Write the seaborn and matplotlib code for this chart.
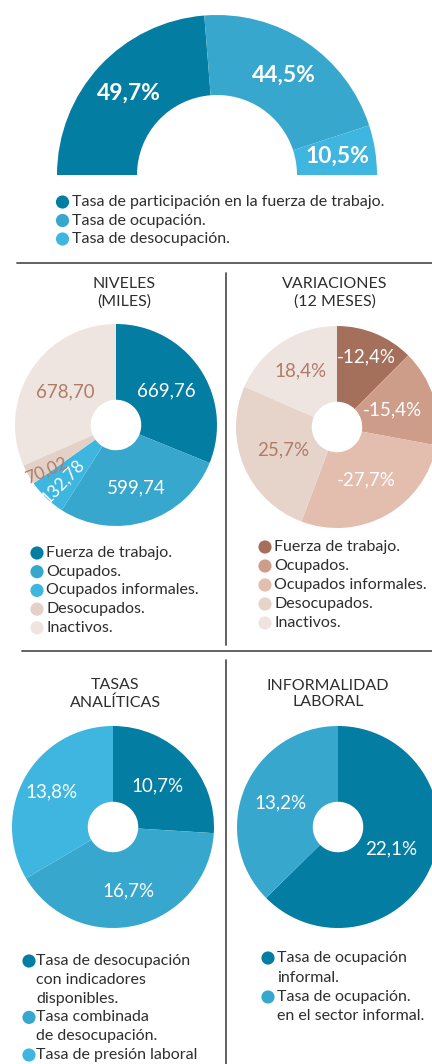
import matplotlib
matplotlib.use("Agg")
import matplotlib.pyplot as plt
import numpy as np
import seaborn as sns

sns.set_theme(style="white")
plt.rcParams["font.family"] = ["Lato", "DejaVu Sans"]

W, H = 432, 1064

# ---- data ----
top_labels = ["Tasa de participación en la fuerza de trabajo.", "Tasa de ocupación.", "Tasa de desocupación."]
top_values = [49.7, 44.5, 10.5]

niv_labels = ["Fuerza de trabajo.", "Ocupados.", "Ocupados informales.", "Desocupados.", "Inactivos."]
niv_values = [669.76, 599.74, 132.78, 70.02, 678.70]

var_labels = ["Fuerza de trabajo.", "Ocupados.", "Ocupados informales.", "Desocupados.", "Inactivos."]
var_values = [-12.4, -15.4, -27.7, 25.7, 18.4]

tasas_labels = ["Tasa de desocupación\ncon indicadores\ndisponibles.", "Tasa combinada\nde desocupación.",
                "Tasa de presión laboral"]
tasas_values = [10.7, 16.7, 13.8]

inf_labels = ["Tasa de ocupación\ninformal.", "Tasa de ocupación.\nen el sector informal."]
inf_values = [22.1, 13.2]

# ---- colours ----
blues = sns.color_palette(["#047DA2", "#37A7CD", "#3EB6E0"])
niv_colors = list(blues) + ["#E3D0C6", "#EEE4E0"]
var_colors = ["#A4705B", "#CE9D89", "#E3BDAE", "#E6D4CB", "#EEE4E0"]
brown_txt = "#B07C68"
txt = "#2E2E2E"
LEG = 11.5
LAB = 13.5
TIT = 11.5

fig = plt.figure(figsize=(W / 100, H / 100), dpi=100)
ov = fig.add_axes([0, 0, 1, 1])
ov.set_xlim(0, W)
ov.set_ylim(H, 0)
ov.axis("off")


def pie_axes(cx, cy, r, pad=1.03):
    ax = fig.add_axes([(cx - r * pad) / W, 1 - (cy + r * pad) / H, 2 * r * pad / W, 2 * r * pad / H])
    return ax


def finish(ax, pad=1.03):
    ax.set_xlim(-pad, pad)
    ax.set_ylim(-pad, pad)
    ax.set_aspect("equal")
    ax.axis("off")


def put_labels(ax, wedges, texts, dists, colors, size, weight="normal", rots=None, sizes=None, offs=None):
    for i, (w, t) in enumerate(zip(wedges, texts)):
        mid = (w.theta1 + w.theta2) / 2 + (0 if offs is None else offs[i])
        th = np.deg2rad(mid)
        d = dists[i]
        rot = 0 if rots is None else rots[i]
        fs = size if sizes is None else sizes[i]
        ax.text(d * np.cos(th), d * np.sin(th), t, ha="center", va="center",
                color=colors[i], fontsize=fs, fontweight=weight, rotation=rot,
                rotation_mode="anchor")


def legend(xm, xt, y0, step, labels, colors, size=LEG, ms=90):
    y = y0
    for lab, c in zip(labels, colors):
        ov.scatter([xm], [y], s=ms, color=c, edgecolor="none")
        for line in lab.split("\n"):
            ov.text(xt, y, line, ha="left", va="center", fontsize=size, color=txt)
            y += step


# ---- top half donut ----
ax = pie_axes(217, 175, 160)
vals = top_values + [sum(top_values)]
wed, _ = ax.pie(vals, colors=list(blues) + ["none"], startangle=180, counterclock=False,
                wedgeprops=dict(width=0.5, linewidth=0))
finish(ax)
put_labels(ax, wed[:3], [f"{v:.1f}".replace(".", ",") + "%" for v in top_values],
           [0.75, 0.75, 0.76], ["white"] * 3, 16.5, weight="bold")
legend(62.5, 72, 202, 18.5, top_labels, blues)

# separators
ov.plot([17, W], [263, 263], color="#555555", lw=1.3)
ov.plot([226, 226], [273, 645], color="#555555", lw=1.3)
ov.plot([22, W], [651, 651], color="#555555", lw=1.3)
ov.plot([226, 226], [660, 1064], color="#555555", lw=1.3)

# ---- niveles ----
ov.text(124, 293, "NIVELES\n(MILES)", ha="center", va="center", fontsize=TIT, color=txt, linespacing=1.25)
ax = pie_axes(116, 425, 101)
wed, _ = ax.pie(niv_values, colors=niv_colors, startangle=90, counterclock=False,
                wedgeprops=dict(width=0.75, linewidth=0))
finish(ax)
put_labels(ax, wed, [f"{v:.2f}".replace(".", ",") for v in niv_values],
           [0.6, 0.65, 0.77, 0.82, 0.6], ["white", "white", "white", brown_txt, brown_txt], LAB,
           rots=[0, 0, 46, 23, 0], sizes=[LAB, LAB, 12.5, 12.5, LAB], offs=[0, 0, 0.5, 4, 0])
legend(37, 46, 553, 18.7, niv_labels, niv_colors)

# ---- variaciones ----
ov.text(335, 293, "VARIACIONES\n(12 MESES)", ha="center", va="center", fontsize=TIT, color=txt, linespacing=1.25)
ax = pie_axes(337, 427, 101)
wed, _ = ax.pie([abs(v) for v in var_values], colors=var_colors, startangle=90, counterclock=False,
                wedgeprops=dict(width=0.75, linewidth=0))
finish(ax)
put_labels(ax, wed, [f"{v:.1f}".replace(".", ",") + "%" for v in var_values],
           [0.75, 0.58, 0.6, 0.58, 0.66], ["white", "white", "white", brown_txt, brown_txt], LAB)
legend(265, 274, 547, 19, var_labels, var_colors)

# ---- tasas analiticas ----
ov.text(115, 694, "TASAS\nANALÍTICAS", ha="center", va="center", fontsize=TIT, color=txt, linespacing=1.25)
ax = pie_axes(113, 827, 101)
wed, _ = ax.pie(tasas_values, colors=blues, startangle=90, counterclock=False,
                wedgeprops=dict(width=0.75, linewidth=0))
finish(ax)
put_labels(ax, wed, [f"{v:.1f}".replace(".", ",") + "%" for v in tasas_values],
           [0.6, 0.65, 0.7], ["white"] * 3, LAB)
legend(29, 36, 961, 18.8, tasas_labels, blues)

# ---- informalidad laboral ----
ov.text(328, 694, "INFORMALIDAD\nLABORAL", ha="center", va="center", fontsize=TIT, color=txt, linespacing=1.25)
ax = pie_axes(338, 827, 101)
wed, _ = ax.pie(inf_values, colors=blues[:2], startangle=90, counterclock=False,
                wedgeprops=dict(width=0.75, linewidth=0))
finish(ax)
put_labels(ax, wed, [f"{v:.1f}".replace(".", ",") + "%" for v in inf_values],
           [0.57, 0.62], ["white"] * 2, LAB)
legend(268, 277, 958, 19.5, inf_labels, blues[:2])

fig.savefig("out.png", dpi=100)
